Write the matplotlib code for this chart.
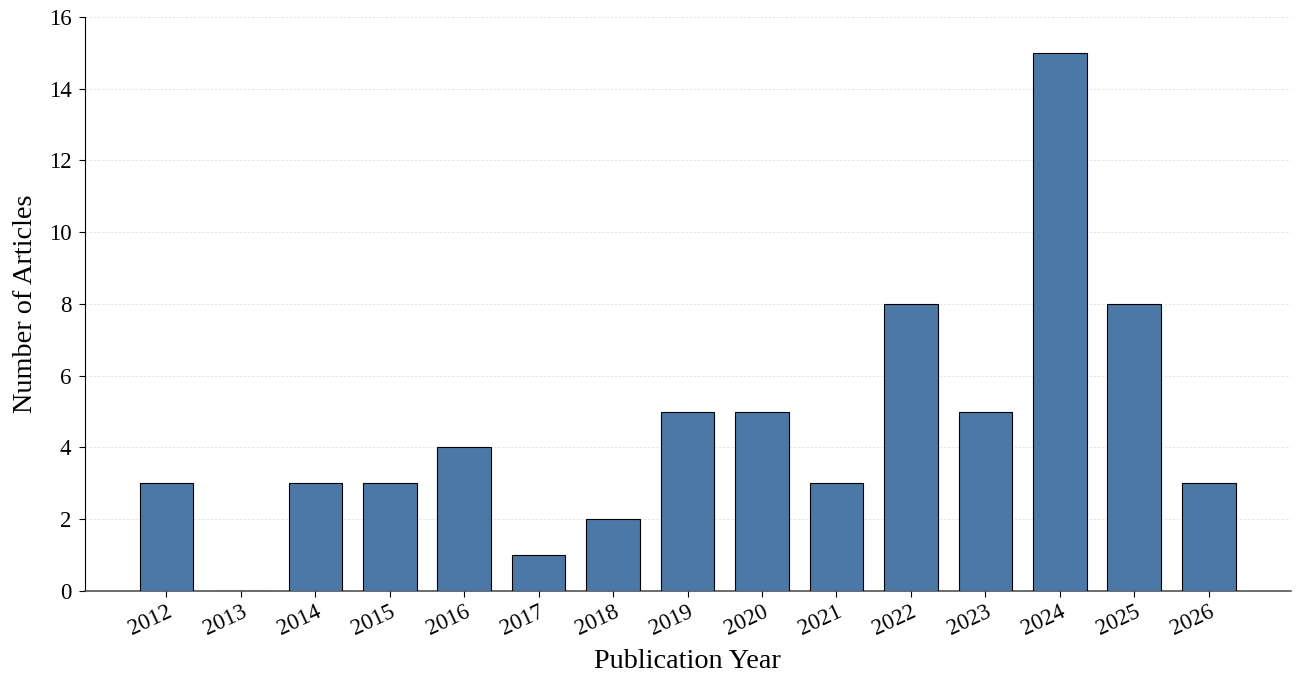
import matplotlib

matplotlib.use("Agg")
import matplotlib.pyplot as plt
import numpy as np

YEARS = ["2012", "2013", "2014", "2015", "2016", "2017", "2018", "2019",
         "2020", "2021", "2022", "2023", "2024", "2025", "2026"]
COUNTS = [3, 0, 3, 3, 4, 1, 2, 5, 5, 3, 8, 5, 15, 8, 3]

BAR_COLOR = "#4C78A8"

plt.rcParams["font.family"] = ["Liberation Serif", "DejaVu Serif"]


def plot_chart() -> None:
    x = np.arange(len(YEARS))
    fig = plt.figure(figsize=(13.01, 6.77), dpi=100)
    ax = fig.add_axes([0.065, 0.127, 0.927, 0.848])

    ax.bar(x, COUNTS, width=0.72, color=BAR_COLOR, edgecolor="black",
           linewidth=0.8, zorder=3)

    ax.set_xlim(-1.1, len(YEARS) - 1 + 1.1)
    ax.set_ylim(0, 16)
    ax.set_yticks(np.arange(0, 17, 2))
    ax.set_xticks(x)
    ax.set_xticklabels(YEARS, rotation=25, ha="right", va="top",
                       rotation_mode="anchor", fontsize=16.5)
    ax.tick_params(axis="y", labelsize=16.5, length=4.5, pad=5)
    ax.tick_params(axis="x", length=4.5, pad=3)
    ax.set_xlabel("Publication Year", fontsize=20.3, labelpad=7)
    ax.set_ylabel("Number of Articles", fontsize=20.3, labelpad=8)

    ax.grid(axis="y", color="#E3E3E3", linestyle=(0, (3, 2)), linewidth=0.6,
            zorder=0)
    ax.set_axisbelow(True)
    ax.spines["top"].set_visible(False)
    ax.spines["right"].set_visible(False)
    ax.spines["bottom"].set_color("#444444")
    ax.spines["bottom"].set_linewidth(1.1)

    fig.savefig("out.png", dpi=100)
    plt.close(fig)


if __name__ == "__main__":
    plot_chart()
